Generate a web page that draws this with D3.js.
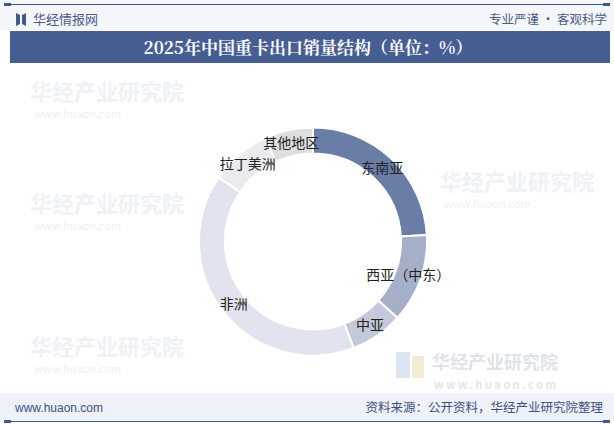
<!DOCTYPE html>
<html><head><meta charset="utf-8">
<script src="https://cdn.jsdelivr.net/npm/d3@7"></script>
<style>body{margin:0;background:#fff;}svg{display:block;font-family:"Noto Sans CJK SC","Noto Sans",sans-serif;}</style>
</head><body>
<svg id="c" width="614" height="425"></svg>
<script>
const categories = ["东南亚","西亚（中东）","中亚","非洲","拉丁美洲","其他地区"];
const values = [24.1, 12.6, 7.5, 40.3, 8.6, 6.9];
const colors = ["#6a7da7","#a4afc8","#c3c9da","#e1e4ee","#e9ebef","#dddedf"];
const title = "2025年中国重卡出口销量结构（单位：%）";

const svg = d3.select("#c");
svg.append("rect").attr("x",0).attr("y",0).attr("width",614).attr("height",30).attr("fill","#f4f6fa");
svg.append("rect").attr("x",0).attr("y",393).attr("width",614).attr("height",32).attr("fill","#eef1f7");
svg.append("rect").attr("x",0).attr("y",420).attr("width",614).attr("height",5).attr("fill","#fff");

const wm = svg.append("g").attr("fill","#eef1f6").attr("font-size",22).attr("font-weight","bold");
[[30,100],[30,212],[30,355],[440,190]].forEach(p=>{
  wm.append("text").attr("x",p[0]).attr("y",p[1]).text("华经产业研究院");
  wm.append("text").attr("x",p[0]+4).attr("y",p[1]+18).attr("font-size",11).attr("font-weight","normal").text("www.huaon.com");
});
const bw = svg.append("g");
bw.append("rect").attr("x",396).attr("y",352).attr("width",14).attr("height",26).attr("fill","#dde5f2");
bw.append("rect").attr("x",412).attr("y",356).attr("width",12).attr("height",22).attr("fill","#f3ecd4");
bw.append("text").attr("x",432).attr("y",369).attr("font-size",18).attr("font-weight","bold").attr("fill","#dfe3ea").text("华经产业研究院");
bw.append("text").attr("x",434).attr("y",389).attr("font-size",11).attr("font-weight","bold").attr("fill","#e3e6ec").attr("letter-spacing",2.5).text("www.huaon.com");

svg.append("line").attr("x1",6).attr("x2",609).attr("y1",4.5).attr("y2",4.5).attr("stroke","#3f5a8c").attr("stroke-width",1.2);
svg.append("rect").attr("x",4).attr("y",3).attr("width",7).attr("height",3).attr("fill","#3f5a8c");
svg.append("rect").attr("x",603).attr("y",3).attr("width",7).attr("height",3).attr("fill","#3f5a8c");
svg.append("path").attr("d","M16,13 L20,15 L20,24 L16,26 Z").attr("fill","#3f5a8c");
svg.append("path").attr("d","M26,13 L22,15 L22,24 L26,26 Z").attr("fill","#3f5a8c");
svg.append("text").attr("x",33).attr("y",24).attr("font-size",13).attr("fill","#4a5d86").text("华经情报网");
svg.append("text").attr("x",607).attr("y",24).attr("text-anchor","end").attr("font-size",12.5).attr("fill","#4a5d86").text("专业严谨 • 客观科学");

svg.append("rect").attr("x",10).attr("y",31).attr("width",600).attr("height",32).attr("fill","#475e93");
svg.append("text").attr("x",308).attr("y",54).attr("text-anchor","middle").attr("font-size",17).attr("font-weight","bold")
  .attr("font-family","'Noto Serif CJK SC','Noto Sans CJK SC',serif").attr("fill","#fff").text(title);

const cx=313, cy=241.5, R=114, r=88;
const pie = d3.pie().sort(null).value(d=>d.v);
const data = pie(categories.map((c,i)=>({c, v:values[i], col:colors[i]})));
const arc = d3.arc().innerRadius(r).outerRadius(R);
const g = svg.append("g").attr("transform",`translate(${cx},${cy})`);
g.selectAll("path").data(data).join("path").attr("d",arc).attr("fill",d=>d.data.col)
  .attr("stroke","#fff").attr("stroke-width",2);
const lab = d3.arc().innerRadius((r+R)/2).outerRadius((r+R)/2);
g.selectAll("text").data(data).join("text")
  .attr("transform",d=>`translate(${lab.centroid(d)})`)
  .attr("text-anchor","middle").attr("dy","0.35em").attr("font-size",14).attr("fill","#222")
  .text(d=>d.data.c);

svg.append("text").attr("x",15).attr("y",412).attr("font-size",12).attr("fill","#3d5183").attr("font-family","Arial,'Liberation Sans',sans-serif").text("www.huaon.com");
svg.append("text").attr("x",603).attr("y",412).attr("text-anchor","end").attr("font-size",12.5).attr("fill","#3d5183").text("资料来源：公开资料，华经产业研究院整理");
svg.append("line").attr("x1",6).attr("x2",609).attr("y1",421.5).attr("y2",421.5).attr("stroke","#3f5a8c").attr("stroke-width",1.2);
svg.append("rect").attr("x",4).attr("y",420).attr("width",7).attr("height",3).attr("fill","#3f5a8c");
svg.append("rect").attr("x",603).attr("y",420).attr("width",7).attr("height",3).attr("fill","#3f5a8c");
</script>
</body></html>
